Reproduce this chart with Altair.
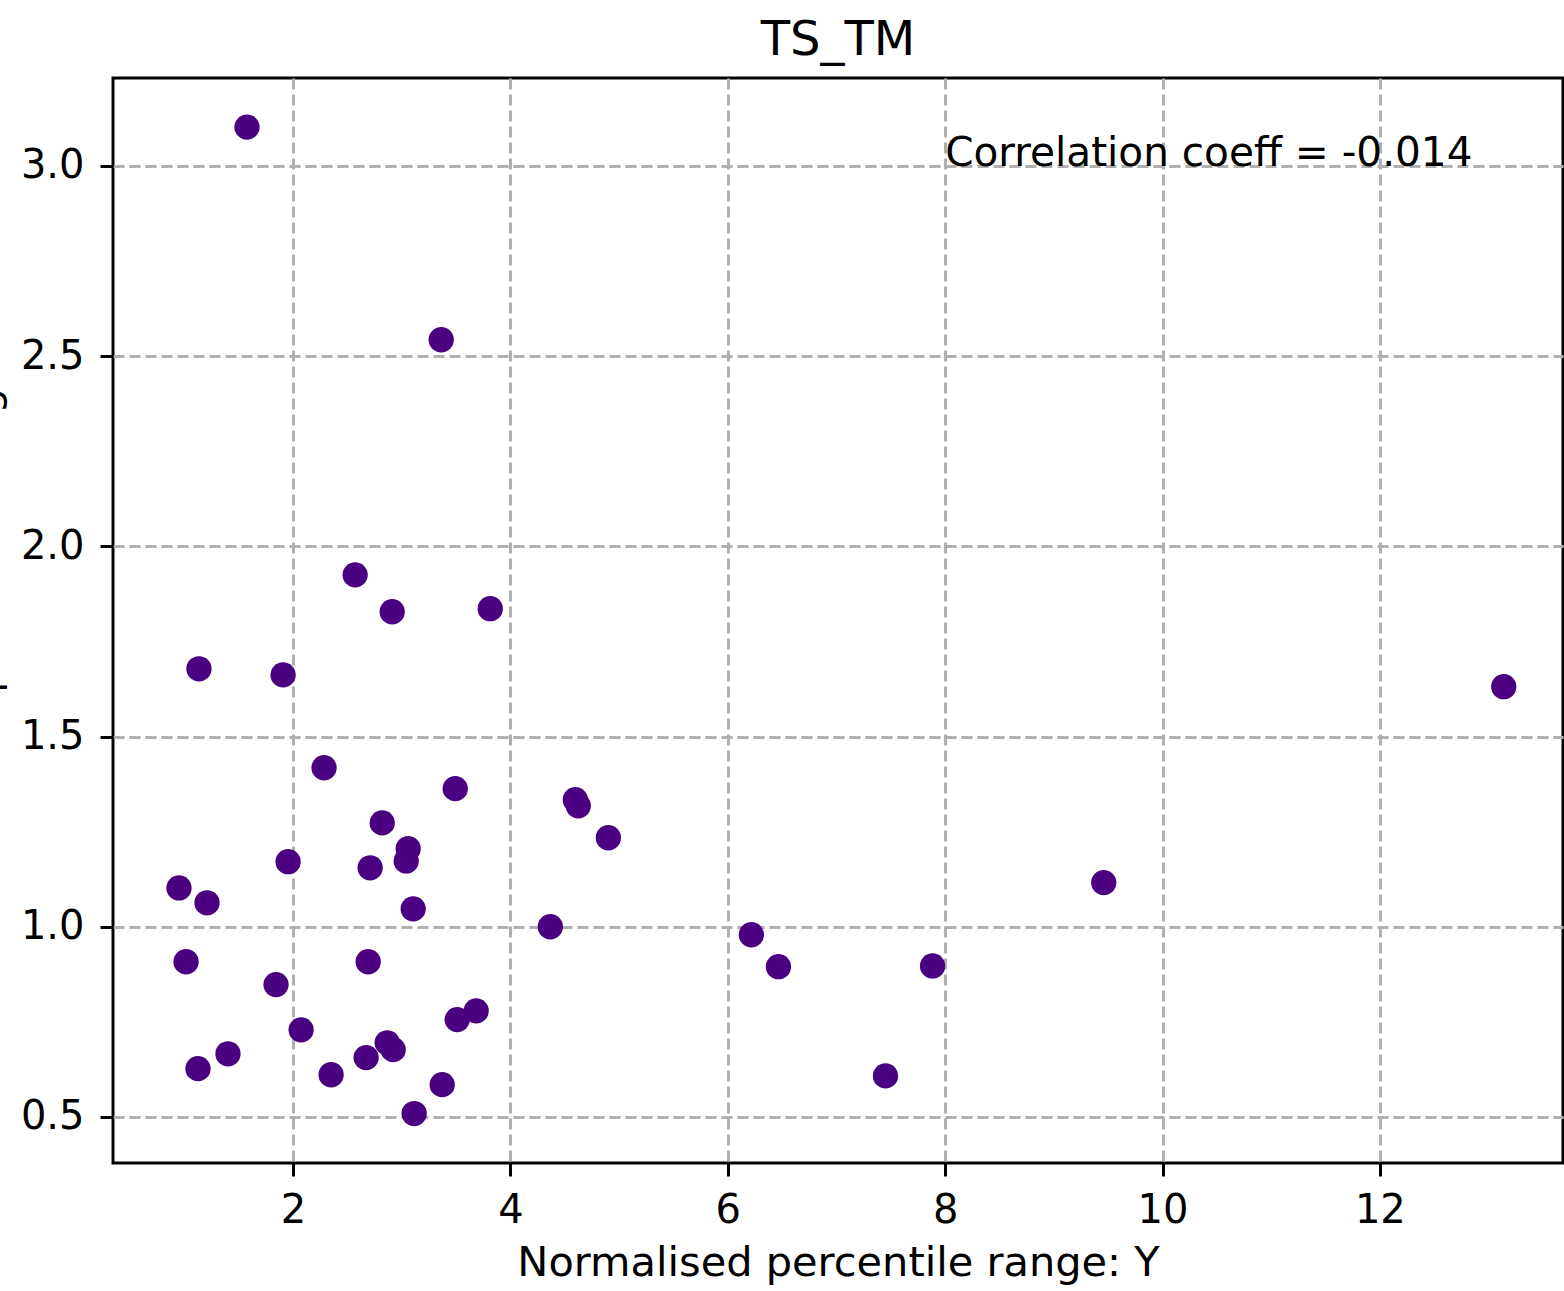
import altair as alt
import pandas as pd

# Data
x_vals = [1.576, 3.363, 2.571, 2.912, 3.814, 1.134, 1.908, 13.14, 2.285, 3.492,
          4.597, 4.624, 2.820, 4.901, 3.059, 3.041, 1.954, 2.709, 0.950, 9.459,
          1.208, 3.105, 4.367, 6.217, 1.015, 2.691, 6.466, 7.884, 1.843, 2.074,
          3.685, 3.510, 1.401, 1.125, 2.350, 2.672, 2.866, 2.921, 3.372, 3.114,
          7.451]
y_vals = [3.102, 2.543, 1.925, 1.828, 1.836, 1.678, 1.662, 1.631, 1.418, 1.363,
          1.334, 1.318, 1.273, 1.234, 1.205, 1.173, 1.171, 1.155, 1.102, 1.116,
          1.063, 1.047, 1.000, 0.979, 0.908, 0.908, 0.895, 0.897, 0.848, 0.729,
          0.779, 0.756, 0.666, 0.627, 0.611, 0.656, 0.695, 0.677, 0.585, 0.509,
          0.608]

x_ticks = [2, 4, 6, 8, 10, 12]
y_ticks = [0.5, 1.0, 1.5, 2.0, 2.5, 3.0]
x_domain = [0.343, 13.685]
y_domain = [0.379, 3.231]

title_text = "TS_TM"
x_title = "Normalised percentile range: Y"
y_title = "Normalised percentile range: X"
annot_text = ["Correlation coeff = -0.014"]
annot_x = [8.0]
annot_y = [3.0]

FONT = "DejaVu Sans"
W, H = 1450, 1085

df = pd.DataFrame({"x": x_vals, "y": y_vals})
ann = pd.DataFrame({"x": annot_x, "y": annot_y, "t": annot_text})

x_enc = alt.X(
    "x:Q",
    scale=alt.Scale(domain=x_domain, nice=False, zero=False),
    axis=alt.Axis(
        values=x_ticks, format="d", title=x_title,
        labelPadding=14, titleX=W / 2, titleY=112, titleFontSize=41.5,
        titleBaseline="alphabetic", titleAlign="center",
    ),
)
y_enc = alt.Y(
    "y:Q",
    scale=alt.Scale(domain=y_domain, nice=False, zero=False),
    axis=alt.Axis(
        values=y_ticks, format=".1f", title=y_title,
        labelPadding=16, titleAngle=270, titleX=-116, titleY=H / 2,
        titleBaseline="alphabetic", titleAlign="center",
    ),
)

points = alt.Chart(df).mark_circle(size=640, opacity=1, color="#4b0082").encode(
    x=x_enc, y=y_enc
)

text = alt.Chart(ann).mark_text(
    align="left", baseline="alphabetic", font=FONT, fontSize=40.6, color="black"
).encode(x="x:Q", y="y:Q", text="t:N")

chart = (
    alt.layer(points, text)
    .properties(
        width=W,
        height=H,
        title=alt.TitleParams(
            title_text, font=FONT, fontSize=48, fontWeight="normal",
            color="black", anchor="middle", offset=13,
        ),
        autosize=alt.AutoSizeParams(type="none"),
        padding={"left": 113, "top": 78, "right": 1, "bottom": 128},
    )
    .configure_view(stroke="black", strokeWidth=3)
    .configure_axis(
        domain=False,
        grid=True,
        gridColor="#b0b0b0",
        gridDash=[11, 5],
        gridWidth=3,
        ticks=True,
        tickSize=13,
        tickWidth=3,
        tickColor="black",
        labelFont=FONT,
        labelFontSize=40,
        labelColor="black",
        titleFont=FONT,
        titleFontSize=40,
        titleFontWeight="normal",
        titleColor="black",
    )
)

chart.save("out.html", embed_options={"renderer": "svg", "actions": False})
